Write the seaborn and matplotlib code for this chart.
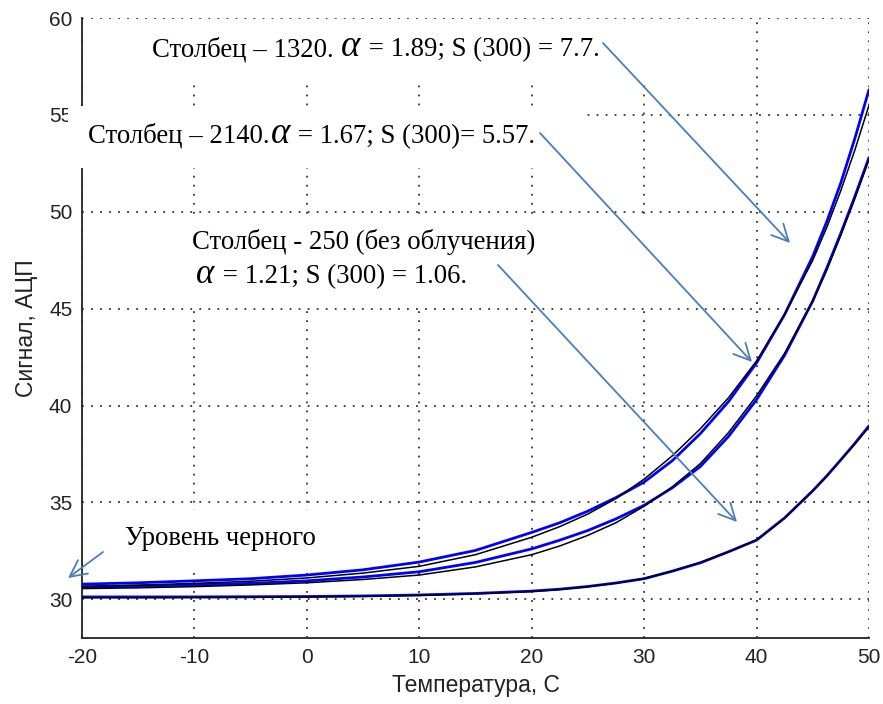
import matplotlib
matplotlib.use("Agg")
import matplotlib.pyplot as plt
import matplotlib.transforms as mtransforms
from matplotlib.patches import Rectangle
import seaborn as sns
import pandas as pd

# ---------------- data ----------------
temp = [-20, -15, -10, -5, 0, 5, 10, 15, 20, 22.5, 25, 27.5, 30, 32.5, 35, 37.5, 40, 42.5,
        45, 46.25, 47.5, 48.75, 50]

col1320_data = [30.78, 30.85, 30.95, 31.06, 31.25, 31.52, 31.92, 32.52, 33.45, 33.95, 34.55, 35.25,
                36.05, 37.15, 38.55, 40.20, 42.20, 44.70, 47.70, 49.50, 51.50, 53.80, 56.30]
col1320_fit = [30.67, 30.73, 30.82, 30.93, 31.10, 31.35, 31.70, 32.30, 33.20, 33.75, 34.40, 35.20,
               36.20, 37.40, 38.80, 40.40, 42.30, 44.70, 47.50, 49.20, 51.10, 53.20, 55.50]

col2140_data = [30.62, 30.68, 30.74, 30.82, 30.95, 31.15, 31.42, 31.90, 32.60, 33.05, 33.55, 34.15,
                34.85, 35.75, 36.85, 38.40, 40.30, 42.60, 45.40, 47.10, 48.90, 50.80, 52.80]
col2140_fit = [30.55, 30.59, 30.65, 30.74, 30.85, 31.02, 31.25, 31.67, 32.30, 32.75, 33.30, 33.95,
               34.80, 35.80, 37.00, 38.60, 40.50, 42.70, 45.40, 47.00, 48.80, 50.70, 52.70]

col250_data = [30.12, 30.12, 30.12, 30.13, 30.14, 30.17, 30.22, 30.30, 30.42, 30.52, 30.66, 30.84,
               31.06, 31.45, 31.88, 32.45, 33.05, 34.20, 35.60, 36.37, 37.20, 38.05, 38.95]
col250_fit = [30.08, 30.08, 30.09, 30.10, 30.12, 30.15, 30.20, 30.28, 30.40, 30.50, 30.65, 30.83,
              31.08, 31.45, 31.90, 32.45, 33.06, 34.20, 35.60, 36.35, 37.20, 38.02, 38.90]

x_ticks = [-20, -10, 0, 10, 20, 30, 40, 50]
y_ticks = [30, 35, 40, 45, 50, 55, 60]
x_label = "Температура, С"
y_label = "Сигнал, АЦП"

# ---------------- figure ----------------
sns.set_style("white")
plt.rcParams['font.family'] = ['Liberation Sans', 'DejaVu Sans']
plt.rcParams['axes.unicode_minus'] = False
plt.rcParams['mathtext.fontset'] = 'custom'
plt.rcParams['mathtext.rm'] = 'Liberation Serif'
plt.rcParams['mathtext.it'] = 'Liberation Serif:italic'

W, H = 883, 704
fig = plt.figure(figsize=(W / 100, H / 100), dpi=100)
ax = fig.add_axes([82 / W, 1 - 638 / H, (869 - 82) / W, (638 - 18) / H])
ax.set_axisbelow(True)

series = [(col1320_data, col1320_fit), (col2140_data, col2140_fit), (col250_data, col250_fit)]
for data, fit in series:
    df = pd.DataFrame({"T": temp, "data": data, "fit": fit})
    sns.lineplot(data=df, x="T", y="data", ax=ax, color="#0000ff", lw=2.0, zorder=4)
    sns.lineplot(data=df, x="T", y="fit", ax=ax, color="black", lw=1.1, zorder=5)

ax.set_xlim(-20, 50)
ax.set_ylim(28, 60)
ax.set_xticks(x_ticks)
ax.set_yticks(y_ticks)
ax.set_xlabel(x_label, fontsize=16.5, color="#222222", labelpad=5)
ax.set_ylabel(y_label, fontsize=16.5, color="#222222", labelpad=8)
ax.tick_params(axis="both", direction="in", length=7, width=1.2, labelsize=15,
               colors="#222222", pad=7, top=False, right=False)
for s in ["top", "right"]:
    ax.spines[s].set_visible(False)
for s in ["left", "bottom"]:
    ax.spines[s].set_color("#222222")
    ax.spines[s].set_linewidth(1.3)
ax.grid(True, linestyle=(0, (1, 4)), linewidth=1.3, color="#333333")

# white text boxes (pixel rectangles, top-left origin)
ident = mtransforms.IdentityTransform()
boxes = [(140, 22, 700, 80), (68, 106, 585, 168), (167, 214, 685, 305), (110, 510, 330, 566)]
for x0, y0, x1, y1 in boxes:
    ax.add_patch(Rectangle((x0, H - y1), x1 - x0, y1 - y0, transform=ident,
                           facecolor="white", edgecolor="none", zorder=3, clip_on=False))

# arrows (figure pixels)
arrow_color = "#4a7ebb"
arrows = [((603, 43), (790, 243)), ((540, 133), (752, 362)),
          ((498, 265), (737, 522)), ((103, 552), (68, 578))]
for (sx, sy), (tx, ty) in arrows:
    ax.annotate("", xy=(tx, H - ty), xytext=(sx, H - sy), xycoords="figure pixels",
                textcoords="figure pixels", annotation_clip=False, zorder=7,
                arrowprops=dict(arrowstyle="->,head_length=0.6,head_width=0.3",
                                mutation_scale=20, color=arrow_color, lw=1.3,
                                shrinkA=0, shrinkB=0))

# annotation texts built from pieces
serif = dict(family=["Liberation Serif", "DejaVu Serif"], fontsize=19.3, color="black")
alpha = dict(fontsize=26.5, color="black")
alpha_small = dict(fontsize=25, color="black")
ALPHA = r"$\mathit{\alpha}$"
renderer = fig.canvas.get_renderer()


def place(pieces, x, yb):
    cur = x
    for s, kw in pieces:
        t = fig.text(cur, H - yb, s, transform=ident, ha="left", va="baseline", zorder=8, **kw)
        cur = t.get_window_extent(renderer).x1


place([("Столбец – 1320. ", serif), (ALPHA, alpha), (" = 1.89; S (300) = 7.7.", serif)], 152, 56)
place([("Столбец – 2140.", serif), (ALPHA, alpha), (" = 1.67; S (300)= 5.57.", serif)], 88, 143)
place([("Столбец - 250 (без облучения)", serif)], 192, 249)
place([(ALPHA, alpha_small), (" = 1.21; S (300) = 1.06.", serif)], 195, 283)
place([("Уровень черного", serif)], 125, 545)

fig.savefig("out.png", dpi=100)
